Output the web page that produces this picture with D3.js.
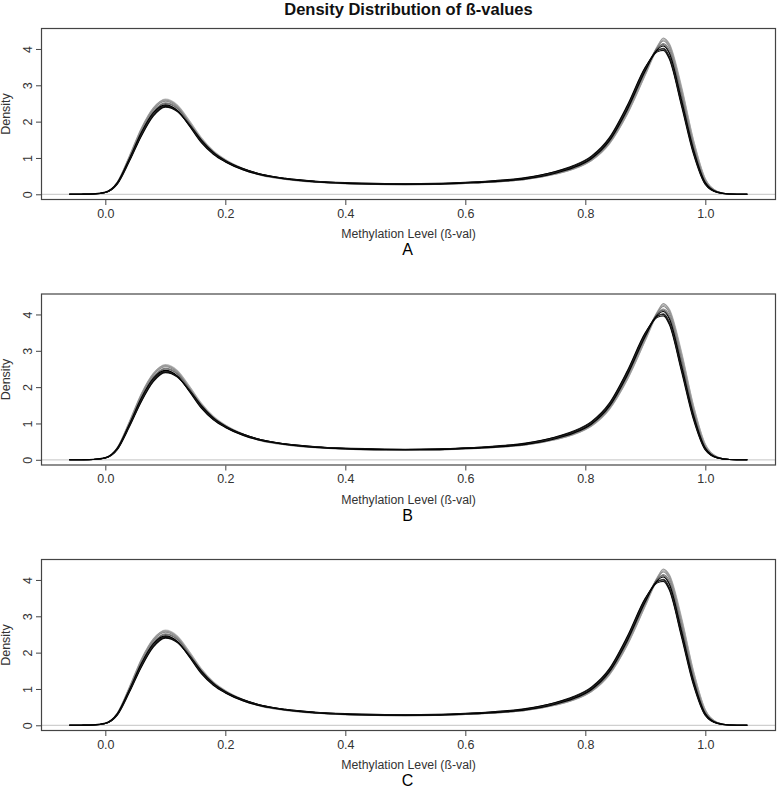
<!DOCTYPE html>
<html>
<head>
<meta charset="utf-8">
<script src="https://cdn.jsdelivr.net/npm/d3@7/dist/d3.min.js"></script>
<style>
  html, body { margin: 0; padding: 0; background: #fff; }
  svg { display: block; }
  text { font-family: Arial, "Liberation Sans", sans-serif; }
</style>
</head>
<body>
<svg id="chart" width="777" height="790"></svg>
<script>
// ---- data ----
const chartTitle = "Density Distribution of ß-values";
const xAxisTitle = "Methylation Level (ß-val)";
const yAxisTitle = "Density";
const panelLabels = ["A", "B", "C"];
const xTicks = [0.0, 0.2, 0.4, 0.6, 0.8, 1.0];
const yTicks = [0, 1, 2, 3, 4];

// shared x grid of the density curves (beta values)
const betaGrid = [-0.06,-0.04,-0.02,0,0.02,0.04,0.06,0.08,0.10,0.12,0.14,0.16,0.18,0.20,0.23,0.26,0.30,0.35,0.40,0.45,
                  0.50,0.55,0.60,0.65,0.70,0.75,0.78,0.81,0.84,0.87,0.90,0.92,0.93,0.94,0.96,0.98,1.00,1.02,1.04,1.07];

// grey sample curves
const grey1 = [0,0.003,0.01,0.05,0.33,1.02,1.78,2.33,2.56,2.40,1.96,1.48,1.13,0.90,0.67,0.52,0.41,0.33,0.29,0.27,0.265,0.27,0.30,0.34,0.41,0.57,0.71,0.95,1.42,2.28,3.38,4.05,4.22,4.05,2.82,1.38,0.36,0.07,0.01,0];
const grey2 = [0,0.003,0.01,0.05,0.34,1.05,1.82,2.38,2.60,2.43,1.98,1.50,1.15,0.92,0.68,0.53,0.42,0.34,0.30,0.28,0.27,0.28,0.31,0.35,0.42,0.56,0.70,0.93,1.40,2.22,3.30,4.05,4.30,4.12,2.92,1.45,0.40,0.08,0.01,0];
const grey3 = [0,0.003,0.01,0.05,0.31,0.98,1.72,2.28,2.52,2.38,1.97,1.52,1.17,0.94,0.70,0.54,0.43,0.35,0.30,0.28,0.275,0.28,0.31,0.35,0.42,0.58,0.72,0.96,1.45,2.30,3.36,4.00,4.15,3.98,2.78,1.35,0.35,0.07,0.01,0];
const grey4 = [0,0.003,0.01,0.05,0.32,1.00,1.76,2.34,2.58,2.44,2.02,1.55,1.19,0.95,0.71,0.55,0.43,0.35,0.30,0.28,0.27,0.28,0.30,0.34,0.41,0.55,0.69,0.92,1.38,2.20,3.28,4.00,4.25,4.10,2.95,1.50,0.42,0.08,0.01,0];
const grey5 = [0,0.003,0.01,0.05,0.30,0.96,1.70,2.26,2.50,2.36,1.95,1.49,1.15,0.92,0.69,0.54,0.43,0.35,0.31,0.29,0.28,0.29,0.32,0.36,0.44,0.60,0.75,1.00,1.49,2.35,3.42,4.02,4.12,3.92,2.70,1.30,0.33,0.06,0.01,0];
const grey6 = [0,0.003,0.01,0.05,0.33,1.03,1.80,2.36,2.62,2.46,2.03,1.56,1.20,0.96,0.71,0.55,0.43,0.34,0.29,0.27,0.26,0.27,0.30,0.34,0.41,0.56,0.70,0.94,1.41,2.25,3.33,4.08,4.28,4.15,3.00,1.52,0.43,0.08,0.01,0];
// black sample curves
const black1 = [0,0.003,0.01,0.05,0.30,0.95,1.65,2.20,2.44,2.30,1.90,1.45,1.12,0.90,0.68,0.54,0.43,0.35,0.31,0.29,0.285,0.29,0.32,0.36,0.43,0.60,0.75,1.00,1.50,2.38,3.45,3.95,4.02,3.80,2.55,1.20,0.30,0.06,0.01,0];
const black2 = [0,0.003,0.01,0.05,0.28,0.90,1.60,2.15,2.40,2.28,1.92,1.50,1.16,0.93,0.70,0.55,0.44,0.36,0.32,0.30,0.29,0.30,0.33,0.38,0.46,0.63,0.79,1.05,1.56,2.45,3.50,3.92,3.96,3.72,2.45,1.12,0.27,0.05,0.01,0];
const black3 = [0,0.003,0.012,0.06,0.32,0.98,1.70,2.24,2.46,2.31,1.88,1.42,1.10,0.89,0.67,0.53,0.42,0.34,0.30,0.28,0.275,0.28,0.31,0.35,0.42,0.58,0.73,0.98,1.47,2.33,3.40,3.98,4.08,3.88,2.62,1.25,0.32,0.06,0.01,0];
const black4 = [0,0.002,0.01,0.05,0.29,0.93,1.62,2.18,2.42,2.29,1.91,1.47,1.14,0.92,0.70,0.55,0.44,0.36,0.31,0.29,0.28,0.29,0.32,0.37,0.45,0.62,0.77,1.03,1.53,2.42,3.48,3.96,4.00,3.76,2.50,1.16,0.28,0.05,0.01,0];

const sampleCurves = [grey6, grey4, grey2, grey1, grey3, grey5, black2, black4, black1, black3];
const sampleColors = ["#bbbbbb", "#aaaaaa", "#999999", "#888888", "#808080", "#666666", "#111111", "#000000", "#222222", "#000000"];

// ---- layout ----
const svg = d3.select("#chart");
const left = 41, right = 776, panelHeight = 172;
const panelTops = [28, 293.5, 559];

const x = d3.scaleLinear().domain([-0.1072, 1.1178]).range([left, right]);

svg.append("text")
  .attr("x", (left + right) / 2).attr("y", 14.7)
  .attr("text-anchor", "middle")
  .attr("font-size", 16.5).attr("font-weight", "bold").attr("fill", "#111")
  .text(chartTitle);

const line = d3.line().curve(d3.curveMonotoneX);

panelLabels.forEach((lab, pi) => {
  const top = panelTops[pi], bottom = top + panelHeight;
  const y = d3.scaleLinear().domain([-0.157, 4.577]).range([bottom, top]);
  const g = svg.append("g");

  // zero line
  g.append("line")
    .attr("x1", left).attr("x2", right)
    .attr("y1", y(0)).attr("y2", y(0))
    .attr("stroke", "#cfcfcf").attr("stroke-width", 1.2);

  // curves
  line.x(d => x(d[0])).y(d => y(d[1]));
  sampleCurves.forEach((vals, ci) => {
    g.append("path")
      .attr("d", line(betaGrid.map((b, i) => [b, vals[i]])))
      .attr("fill", "none")
      .attr("stroke", sampleColors[ci])
      .attr("stroke-width", 1.1);
  });

  // box
  g.append("rect")
    .attr("x", left + 0.5).attr("y", top + 0.5)
    .attr("width", right - left - 1).attr("height", panelHeight - 1)
    .attr("fill", "none").attr("stroke", "#444").attr("stroke-width", 1.2);

  // x axis
  const xa = g.append("g").attr("transform", `translate(0,${bottom})`)
    .call(d3.axisBottom(x).tickValues(xTicks).tickFormat(d3.format(".1f")).tickSize(5).tickPadding(4));
  xa.select(".domain").remove();
  xa.selectAll("line").attr("stroke", "#444");
  xa.selectAll("text").attr("font-size", 12.5).attr("fill", "#333")
    .attr("font-family", "Arial, 'Liberation Sans', sans-serif");

  // y axis
  const ya = g.append("g").attr("transform", `translate(${left},0)`)
    .call(d3.axisLeft(y).tickValues(yTicks).tickFormat(d3.format("d")).tickSize(5));
  ya.select(".domain").remove();
  ya.selectAll("line").attr("stroke", "#444");
  ya.selectAll("text")
    .attr("font-size", 12.5).attr("fill", "#333")
    .attr("font-family", "Arial, 'Liberation Sans', sans-serif")
    .attr("text-anchor", "middle")
    .attr("dy", null)
    .attr("x", null)
    .attr("transform", "translate(-9.5,0) rotate(-90)");

  // axis titles
  g.append("text")
    .attr("x", (left + right) / 2).attr("y", bottom + 38)
    .attr("text-anchor", "middle").attr("font-size", 12.3).attr("fill", "#333")
    .text(xAxisTitle);
  g.append("text")
    .attr("transform", `translate(10,${(top + bottom) / 2}) rotate(-90)`)
    .attr("text-anchor", "middle").attr("font-size", 12.5).attr("fill", "#333")
    .text(yAxisTitle);

  // panel label
  g.append("text")
    .attr("x", (left + right) / 2 - 1).attr("y", bottom + 55)
    .attr("text-anchor", "middle").attr("font-size", 16).attr("fill", "#000")
    .text(lab);
});
</script>
</body>
</html>
